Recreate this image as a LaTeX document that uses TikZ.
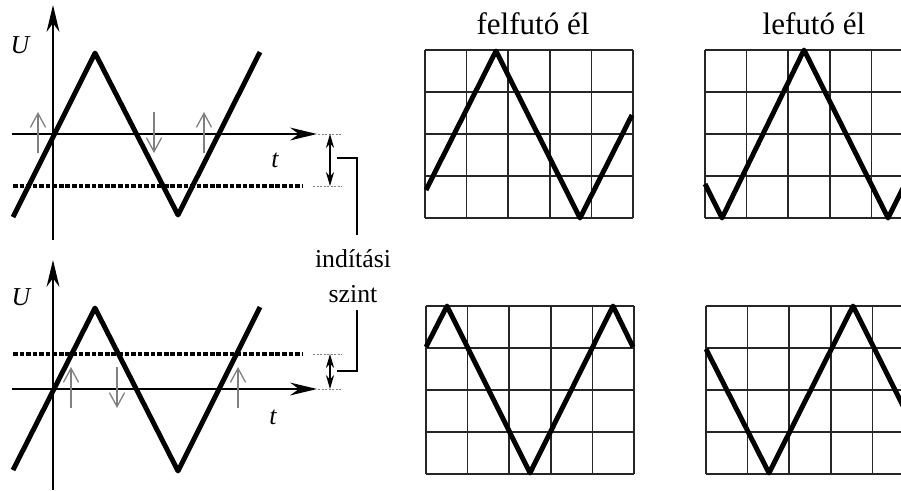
\documentclass[tikz,border=0pt]{standalone}
\usepackage{fontspec}
\setmainfont{Liberation Serif}
\usetikzlibrary{arrows.meta}

\begin{document}
\begin{tikzpicture}[x=0.03cm, y=-0.03cm]
  % Styles
  \tikzset{
    wave/.style={line width=4.2pt, line join=round},
    axe/.style={line width=1.1pt, -{Stealth[length=23pt, width=11pt]}},
    level/.style={line width=3.2pt, dash pattern=on 4pt off 1.6pt},
    guide/.style={gray, line width=0.6pt, dash pattern=on 2pt off 1pt},
    jel/.style={gray, line width=1.1pt, -{Straight Barb[length=12pt, width=13pt]}},
    dist/.style={line width=1.1pt, {Stealth[length=12pt, width=7pt]}-{Stealth[length=12pt, width=7pt]}},
    grille/.style={black!85, line width=1.4pt},
    felirat/.style={font=\fontsize{22}{30}\selectfont, inner sep=0pt},
    cim/.style={font=\fontsize{26.5}{30}\selectfont, inner sep=0pt},
  }

  % Cadre de la page
  \useasboundingbox (0,0) rectangle (901,490);
  \clip (0,0) rectangle (901,490);

  % Axes
  \draw[axe] (53,240) -- (53,5);
  \draw[axe] (12,134) -- (317,134);
  \draw[axe] (53,490) -- (53,260);
  \draw[axe] (12,389) -- (317,389);
  \node[felirat, font=\fontsize{22}{30}\selectfont\itshape] (U1) at (20,45) {U};
  \node[felirat, font=\fontsize{22}{30}\selectfont\itshape] (t1) at (275,160) {t};
  \node[felirat, font=\fontsize{22}{30}\selectfont\itshape] (U2) at (21,297) {U};
  \node[felirat, font=\fontsize{22}{30}\selectfont\itshape] (t2) at (273,417) {t};

  % Jel
  \draw[wave] (13,217) -- (95,53) -- (178,215) -- (260,52);
  \draw[wave] (13,470) -- (95,308) -- (178,471) -- (260,307);

  % Indítási szint
  \draw[level] (13,186) -- (303,186);
  \draw[level] (13,354) -- (303,354);
  \foreach \y/\x in {134/318, 186/313, 389/318, 354/313}
    \draw[guide] (\x,\y) -- (342,\y);
  \draw[dist] (330,134) -- (330,186);
  \draw[dist] (330,354) -- (330,389);
  \draw[line width=0.9pt] (337,158) -| (357,235);
  \draw[line width=0.9pt] (357,310) |- (337,371);
  \node[felirat, align=center] (szint) at (353,276) {indítási\\szint};

  % Indítási pontok
  \foreach \x/\ya/\yb in {38/153/112, 154/112/153, 204/153/112,
                          71/408/367, 117/367/408, 238/408/367}
    \draw[jel] (\x,\ya) -- (\x,\yb);

  % Ernyők
  \foreach \ox/\oy in {425/50, 705/50, 426/306, 706/306}{
    \foreach \i in {0,...,5}
      \draw[grille] (\ox+\i*41.6,\oy) -- ++(0,168);
    \foreach \j in {0,...,4}
      \draw[grille] (\ox,\oy+\j*42) -- ++(208,0);
  }
  \node[cim] (fel) at (533,24) {felfutó él};
  \node[cim] (le) at (814,24) {lefutó él};

  \draw[wave] (426,190) -- (496,51) -- (580,218) -- (632,115);
  \draw[wave] (705,184) -- (722,218) -- (804,50) -- (888,218) -- (918,158);
  \draw[wave] (426,347) -- (447,306) -- (530,473) -- (613,306) -- (633,347);
  \draw[wave] (706,349) -- (769,473) -- (853,306) -- (920,440);

\end{tikzpicture}
\end{document}
